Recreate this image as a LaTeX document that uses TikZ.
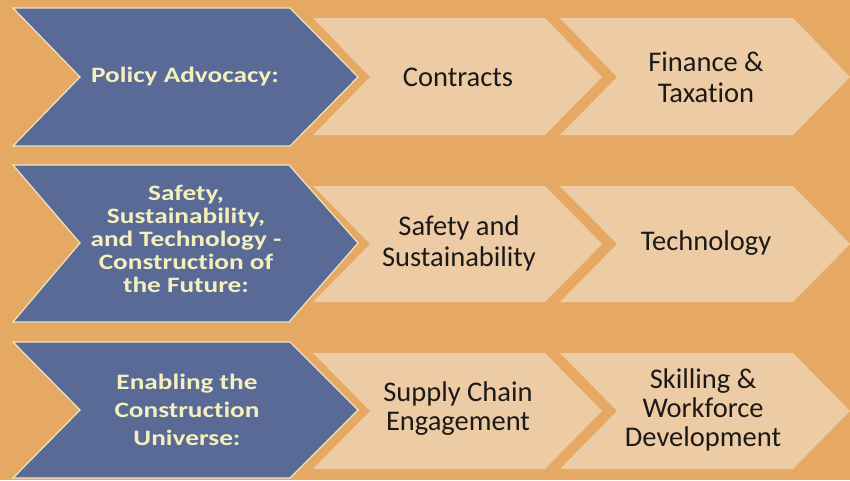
\documentclass[tikz,border=0pt]{standalone}
\usepackage{fontspec}
\setmainfont{Carlito}[RawFeature={-liga}]
\newfontfamily\darkfont[FakeStretch=1.24,RawFeature={-liga}]{Carlito}
\definecolor{bgorange}{HTML}{E5A963}
\definecolor{darkblue}{HTML}{5A6A96}
\definecolor{darkline}{HTML}{EEE6C2}
\definecolor{lightfill}{HTML}{EDCBA5}
\definecolor{paletext}{HTML}{F4F0BE}
\definecolor{inktext}{HTML}{1C1A18}
\tikzset{
  darkchev/.style={fill=darkblue, draw=darkline, line width=1.2pt, line join=miter},
  lightchev/.style={fill=lightfill, draw=none},
  darktext/.style={text=paletext, align=center, font=\darkfont\bfseries\fontsize{22}{23}\selectfont},
  lighttext/.style={text=inktext, align=center, font=\fontsize{28.5}{31}\selectfont},
}
\begin{document}
\begin{tikzpicture}[x=1pt,y=-1pt]
\useasboundingbox (0,0) rectangle (850,480);
\fill[bgorange] (0,0) rectangle (850,480);
% row 1
\path[darkchev] (13,8) -- (290,8) -- (358,77) -- (290,146) -- (13,146) -- (80,77) -- cycle;
\path[lightchev] (313,18) -- (545,18) -- (602,77) -- (545,135) -- (313,135) -- (370,77) -- cycle;
\path[lightchev] (560,18) -- (793,18) -- (850,77) -- (793,135) -- (560,135) -- (617,77) -- cycle;
% row 2
\path[darkchev] (13,165) -- (289,165) -- (358,243) -- (289,322) -- (13,322) -- (80,243) -- cycle;
\path[lightchev] (313,186) -- (545,186) -- (602,244) -- (545,302) -- (313,302) -- (370,244) -- cycle;
\path[lightchev] (560,186) -- (793,186) -- (850,244) -- (793,302) -- (560,302) -- (617,244) -- cycle;
% row 3
\path[darkchev] (13,342) -- (290,342) -- (358,410) -- (290,478) -- (13,478) -- (80,410) -- cycle;
\path[lightchev] (313,353) -- (545,353) -- (602,411) -- (545,469) -- (313,469) -- (370,411) -- cycle;
\path[lightchev] (560,353) -- (793,353) -- (850,411) -- (793,469) -- (560,469) -- (617,411) -- cycle;
% texts
\node[darktext] (t1) at (185,77) {Policy Advocacy:};
\node[darktext] (t2) at (186,239) {Safety,\\Sustainability,\\and Technology -\\Construction of\\the Future:};
\node[darktext, font=\darkfont\bfseries\fontsize{22}{28}\selectfont] (t3) at (187,410) {Enabling the\\Construction\\Universe:};
\node[lighttext] (c1) at (458,77) {Contracts};
\node[lighttext] (c2) at (706,77) {Finance \&\\Taxation};
\node[lighttext] (c3) at (459,243) {Safety and\\Sustainability};
\node[lighttext] (c4) at (706,243) {Technology};
\node[lighttext, font=\fontsize{28.5}{29}\selectfont] (c5) at (458,409) {Supply Chain\\Engagement};
\node[lighttext, font=\fontsize{28.5}{29}\selectfont] (c6) at (703,410) {Skilling \&\\Workforce\\Development};
\end{tikzpicture}
\end{document}
